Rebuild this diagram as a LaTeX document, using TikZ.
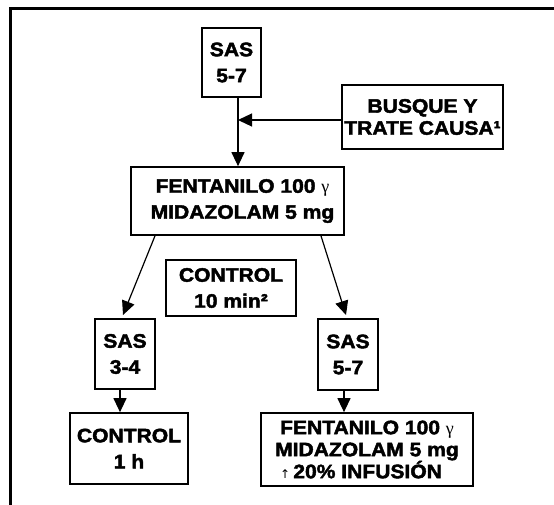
\documentclass[tikz,border=0pt]{standalone}
\usepackage{fontspec}
\usetikzlibrary{arrows.meta}
\newfontfamily\hb{Liberation Sans Bold}[FakeBold=2.2,FakeStretch=1.08]
\newfontfamily\gam{Liberation Serif}
\newfontfamily\arr{DejaVu Sans}
\newcommand{\gm}{{\gam\fontsize{18}{26}\selectfont γ}}
\tikzset{
  box/.style={draw, line width=1.7pt, align=center, inner sep=0pt,
    font=\hb\fontsize{19.5}{26}\selectfont},
  conn/.style={line width=1.2pt, -{Triangle[length=14pt,width=13pt]}},
  frame/.style={line width=3pt}
}
\begin{document}
\begin{tikzpicture}[x=1pt,y=-1pt]
\useasboundingbox (0,0) rectangle (554,504);
% frame (top and left only)
\draw[frame] (10.5,560) -- (10.5,8.5) -- (560,8.5);
% boxes
\node[box, minimum width=59pt, minimum height=69pt] (sas1) at (231.5,62.5) {SAS\\5-7};
\node[box, minimum width=161pt, minimum height=64pt] (busque) at (422.5,117) {BUSQUE Y\\[-4pt]TRATE CAUSA¹};
\node[box, minimum width=213pt, minimum height=68pt] (fent1) at (237.5,201) {\hspace*{10pt}FENTANILO 100 \gm\\\hspace*{10pt}MIDAZOLAM 5 mg};
\node[box, minimum width=130pt, minimum height=56pt] (ctrl10) at (231,288) {CONTROL\\10 min²};
\node[box, minimum width=60pt, minimum height=70pt] (sas34) at (125,354) {SAS\\3-4};
\node[box, minimum width=60pt, minimum height=71pt] (sas57) at (348,354.5) {SAS\\5-7};
\node[box, minimum width=118pt, minimum height=71pt] (ctrl1h) at (129,448.5) {CONTROL\\1 h};
\node[box, minimum width=212pt, minimum height=73pt] (fent2) at (367,449.5) {FENTANILO 100 \gm\\[-4pt]MIDAZOLAM 5 mg\\[-4pt]{\arr\mdseries\fontsize{12}{12}\selectfont ↑}\,20\% INFUSIÓN\hspace*{12pt}};
% helper coordinates
\coordinate (join) at (238,120);
\coordinate (ltip) at (123,315);
\coordinate (rtip) at (346,315);
\coordinate (lcol) at (120,0);
\coordinate (rcol) at (344,0);
% connectors
\draw[conn] (sas1.south -| join) -- (fent1.north -| join);
\draw[conn] (busque.west |- join) -- (join);
\draw[conn] ([xshift=-82.5pt]fent1.south) -- (ltip);
\draw[conn] ([xshift=83.5pt]fent1.south) -- (rtip);
\draw[conn] (sas34.south -| lcol) -- (ctrl1h.north -| lcol);
\draw[conn] (sas57.south -| rcol) -- (fent2.north -| rcol);
\end{tikzpicture}
\end{document}
